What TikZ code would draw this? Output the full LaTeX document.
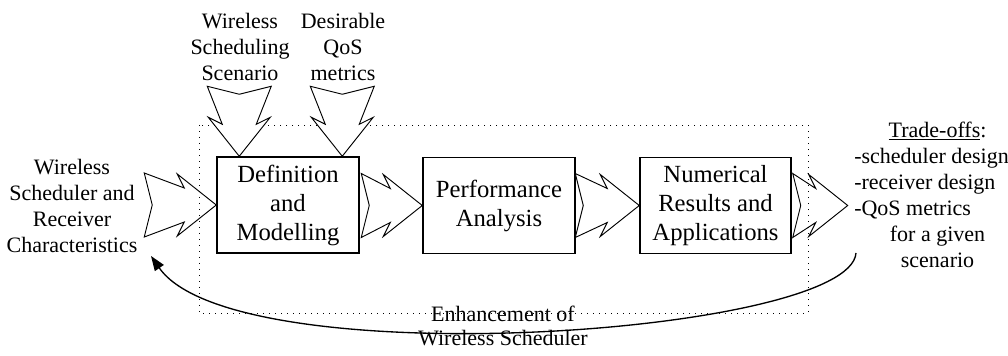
\documentclass[tikz,border=0pt]{standalone}
\usepackage{fontspec}
\setmainfont{Liberation Serif}
\usetikzlibrary{arrows.meta,calc}
\begin{document}
\begin{tikzpicture}[x=0.75pt,y=-0.75pt,
  stage/.style={draw,line width=1.1pt,inner sep=0pt,align=center,
    font=\fontsize{18.5}{21.75}\selectfont,minimum height=72pt},
  lbl/.style={align=center,inner sep=0pt,font=\fontsize{16.5}{19.5}\selectfont},
  blockarr/.style={draw,line width=0.7pt,line join=miter,fill=white},
  frame/.style={line width=0.6pt,dash pattern=on 0.6pt off 3.9pt},
  feedback/.style={line width=1pt,-{Triangle[length=11pt,width=8pt]}},
  % notched block arrow, tip at the origin, pointing along +x
  pics/rblock/.style={code={
    \path[blockarr] (-#1,-32) -- (-32,-17) -- (-39,-31) -- (0,0) -- (-39,31)
      -- (-32,17) -- (-#1,32) -- ({-#1+8},0) -- cycle;}},
]
\useasboundingbox (0,0) rectangle (1008,356);

% the three stages
\node[stage,minimum width=106.5pt] (def)  at (288,205)   {Definition\\and\\Modelling};
\node[stage,minimum width=114pt]   (perf) at (499,205.5) {Performance\\Analysis};
\node[stage,minimum width=113.25pt](num)  at (715.5,205.5) {Numerical\\Results and\\Applications};

% inputs and outputs
\node[lbl] (chars) at (72,206) {Wireless\\Scheduler and\\Receiver\\Characteristics};
\node[lbl] (scen)  at (240,47) {Wireless\\Scheduling\\Scenario};
\node[lbl] (qos)   at (343,47) {Desirable\\QoS\\metrics};
\node[lbl,anchor=west] (trade) at (854,197) {\begin{tabular}{@{}l@{}}
  \multicolumn{1}{@{}c@{}}{\hspace{9pt}\underline{Trade-offs}:}\\
  -scheduler design\\
  -receiver design\\
  -QoS metrics\\
  \multicolumn{1}{@{}c@{}}{\hspace{9pt}for a given}\\
  \multicolumn{1}{@{}c@{}}{\hspace{9pt}scenario}
\end{tabular}};
\node[lbl,font=\fontsize{16.5}{18}\selectfont] (enh) at (503,326)
  {Enhancement of\\Wireless Scheduler};

% horizontal block arrows along the chain
\pic at (def.west)  {rblock=72};
\pic at (perf.west) {rblock=61};
\pic at (num.west)  {rblock=64};
\coordinate (out) at ($(num.east)+(56,0)$);
\pic at (out) {rblock=55};

% dotted frame around the analysis chain
\draw[frame] (199,125) rectangle (808,313);

% downward block arrows feeding the first stage
\pic[rotate=-90] at ($(def.north west)+(23,0)$)  {rblock=70};
\pic[rotate=-90] at ($(def.north west)+(126,0)$) {rblock=70};

% feedback loop
\coordinate (fbs) at (856,253);
\coordinate (fbe) at (151,256);
\draw[feedback] (fbs) .. controls (850,335) and (235,377) .. (fbe);
\end{tikzpicture}
\end{document}
